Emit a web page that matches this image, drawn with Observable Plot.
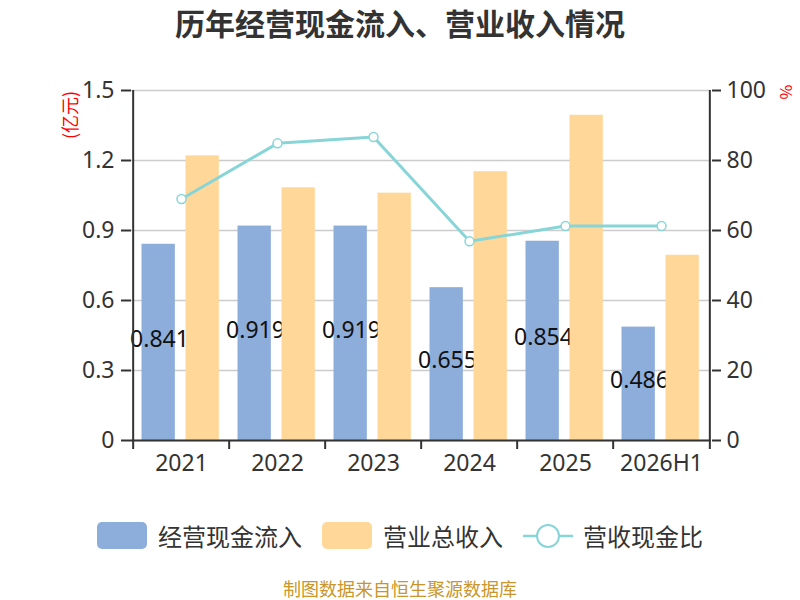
<!DOCTYPE html>
<html><head><meta charset="utf-8">
<script src="https://cdn.jsdelivr.net/npm/d3@7"></script>
<script src="https://cdn.jsdelivr.net/npm/@observablehq/plot@0.6"></script>
<style>
body{margin:0;background:#fff;font-family:"Noto Sans","Noto Sans CJK SC",sans-serif;}
#wrap{position:relative;width:800px;height:600px;overflow:hidden;background:#fff}
#title{position:absolute;top:2px;left:0;width:800px;text-align:center;font-size:30px;font-weight:bold;color:#333;font-family:"Noto Sans CJK SC",sans-serif;line-height:40px}
#chart{position:absolute;top:0;left:0}
.unit{position:absolute;color:#f00;white-space:nowrap;font-family:"Noto Sans CJK SC",sans-serif;line-height:1}
#unitL{left:69px;top:115px;font-size:18px;transform:translate(-50%,-50%) rotate(-90deg)}
#unitR{left:787px;top:92px;font-size:16px;transform:translate(-50%,-50%) rotate(90deg)}
#legend{position:absolute;top:521px;left:0;width:800px;height:29px;display:flex;justify-content:center;align-items:center;font-size:24px;color:#333;font-family:"Noto Sans CJK SC",sans-serif}
.item{display:flex;align-items:center;margin:0 10px}
.sw{display:inline-block;width:50px;height:27px;border-radius:5px;margin-right:11px}
#legend svg{margin-right:10px}
#source{position:absolute;top:577px;left:0;width:800px;text-align:center;font-size:18px;color:#C8962A;font-family:"Noto Sans CJK SC",sans-serif;line-height:22px}
</style></head>
<body>
<div id="wrap">
  <div id="chart"></div>
  <div id="title">历年经营现金流入、营业收入情况</div>
  <div class="unit" id="unitL">(亿元)</div>
  <div class="unit" id="unitR">%</div>
  <div id="legend"></div>
  <div id="source">制图数据来自恒生聚源数据库</div>
</div>
<script>
const years = ["2021", "2022", "2023", "2024", "2025", "2026H1"];
const cashInflow = [0.841, 0.919, 0.919, 0.655, 0.854, 0.486];
const revenue = [1.22, 1.083, 1.06, 1.152, 1.394, 0.794];
const ratio = [69.0, 84.9, 86.7, 56.9, 61.3, 61.3];
const yTicks = [0, 0.3, 0.6, 0.9, 1.2, 1.5];
const seriesNames = ["经营现金流入", "营业总收入", "营收现金比"];
const colors = ["#8DADDB", "#FFD899", "#88D5D8"];

const yMax = 1.5, ratioMax = 100;
const data = years.map((y, i) => ({year: y, cash: cashInflow[i], rev: revenue[i], ratio: ratio[i]}));
const W = 800, ML = 131, MR = 89;
const bw = (W - ML - MR) / years.length;

const chart = Plot.plot({
  width: W, height: 500,
  marginLeft: ML, marginRight: MR, marginTop: 90, marginBottom: 60,
  style: {fontFamily: '"Noto Sans","Noto Sans CJK SC",sans-serif', fontSize: "23px", color: "#333", background: "transparent", overflow: "visible"},
  x: {type: "band", domain: years, padding: 0, axis: null},
  y: {domain: [0, yMax], axis: null},
  marks: [
    Plot.gridY(yTicks, {stroke: "#ccc", strokeOpacity: 1, strokeWidth: 1.5}),
    Plot.barY(data, {x: "year", y: "cash", fill: colors[0], insetLeft: 8.5, insetRight: bw - 42.5}),
    Plot.text(data, {x: "year", y: d => d.cash / 2, text: d => d.cash.toFixed(3), dx: -22, dy: -3, fontSize: 23, fill: "#111"}),
    Plot.barY(data, {x: "year", y: "rev", fill: colors[1], insetLeft: 52.5, insetRight: bw - 86.5}),
    Plot.ruleY([0], {stroke: "#333", strokeWidth: 2}),
    Plot.ruleX([years[0]], {y1: 0, y2: yMax, dx: -bw / 2, stroke: "#333", strokeWidth: 2}),
    Plot.ruleX([years[years.length - 1]], {y1: 0, y2: yMax, dx: bw / 2, stroke: "#333", strokeWidth: 2}),
    Plot.axisX({tickSize: 9, tickFormat: () => "", dx: -bw / 2, strokeWidth: 2, label: null}),
    Plot.axisX([years[years.length - 1]], {tickSize: 9, tickFormat: () => "", dx: bw / 2, strokeWidth: 2, label: null}),
    Plot.axisX({tickSize: 0, tickPadding: 14, fontSize: 23, label: null}),
    Plot.axisY(yTicks, {anchor: "left", tickSize: 10, tickPadding: 7, strokeWidth: 2, fontSize: 23, label: null, tickFormat: d => d === 0 ? "0" : d.toFixed(1)}),
    Plot.axisY(yTicks, {anchor: "right", tickSize: 9, tickPadding: 6, strokeWidth: 2, fontSize: 23, label: null, tickFormat: d => String(Math.round(d / yMax * ratioMax))}),
    Plot.line(data, {x: "year", y: d => d.ratio / ratioMax * yMax, stroke: colors[2], strokeWidth: 3}),
    Plot.dot(data, {x: "year", y: d => d.ratio / ratioMax * yMax, r: 4.5, fill: "#fff", stroke: colors[2], strokeWidth: 1.5})
  ]
});
document.getElementById("chart").appendChild(chart);

const legend = document.getElementById("legend");
seriesNames.forEach((name, i) => {
  const item = document.createElement("div");
  item.className = "item";
  if (i < 2) {
    const sw = document.createElement("span");
    sw.className = "sw";
    sw.style.background = colors[i];
    item.appendChild(sw);
  } else {
    const ns = "http://www.w3.org/2000/svg";
    const svg = document.createElementNS(ns, "svg");
    svg.setAttribute("width", 50); svg.setAttribute("height", 28);
    const ln = document.createElementNS(ns, "line");
    ln.setAttribute("x1", 0); ln.setAttribute("x2", 50); ln.setAttribute("y1", 14); ln.setAttribute("y2", 14);
    ln.setAttribute("stroke", colors[2]); ln.setAttribute("stroke-width", 2.5);
    const c = document.createElementNS(ns, "circle");
    c.setAttribute("cx", 25); c.setAttribute("cy", 14); c.setAttribute("r", 11);
    c.setAttribute("fill", "#fff"); c.setAttribute("stroke", colors[2]); c.setAttribute("stroke-width", 2);
    svg.appendChild(ln); svg.appendChild(c);
    item.appendChild(svg);
  }
  const t = document.createElement("span");
  t.textContent = name;
  item.appendChild(t);
  legend.appendChild(item);
});
</script>
</body></html>
